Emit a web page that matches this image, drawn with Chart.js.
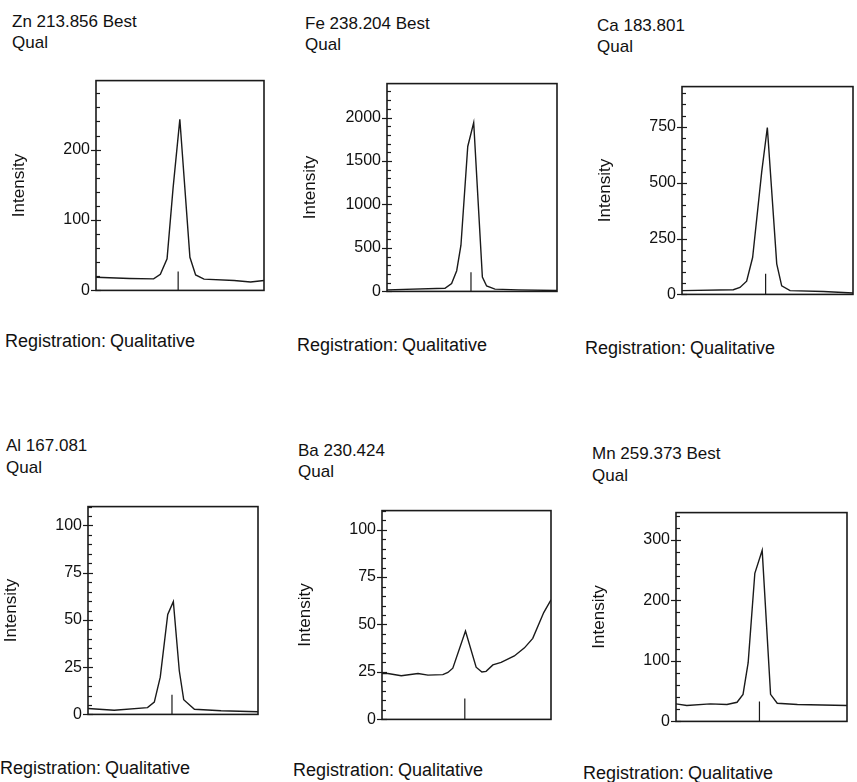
<!DOCTYPE html>
<html>
<head>
<meta charset="utf-8">
<script src="https://cdn.jsdelivr.net/npm/chart.js@4/dist/chart.umd.min.js"></script>
<style>
  body { margin:0; background:#fff; width:857px; height:782px; position:relative; overflow:hidden;
         font-family:"Liberation Sans", Arial, sans-serif; color:#111; }
  .ttl { position:absolute; font-size:17px; line-height:21.5px; white-space:nowrap; }
  .reg { position:absolute; font-size:18px; line-height:22px; white-space:nowrap; word-spacing:-1px; }
  canvas { position:absolute; }
</style>
</head>
<body>
<script>
// ---- line labels ----
const lineNames = ['Zn 213.856 Best', 'Fe 238.204 Best', 'Ca 183.801', 'Al 167.081', 'Ba 230.424', 'Mn 259.373 Best'];

// ---- scan profiles (x = position across window, 0..100) ----
const znX = [0, 20, 34.3, 38.3, 42.3, 45.9, 49.9, 55.9, 59.3, 64.3, 82.2, 92, 100];
const znY = [18.7, 17, 16.4, 23, 45, 146, 243, 47, 22, 16, 14, 12, 14];

const feX = [0, 34.1, 38, 41, 43.5, 47.5, 51, 56.1, 58.6, 63.5, 77.3, 100];
const feY = [18, 36, 91, 238, 531, 1667, 1941, 165, 62, 26, 18, 11];

const caX = [0, 30, 33.9, 37.8, 41.3, 46.6, 49.9, 55.4, 58.3, 63.2, 82.7, 100];
const caY = [17, 21, 31, 59, 165, 547, 747, 137, 38, 17, 13, 6];

const alX = [0, 15.4, 35, 39, 42.5, 46.9, 50.2, 53.7, 56.3, 62.6, 78.3, 100];
const alY = [3.1, 2.2, 3.6, 6.5, 19.7, 52.9, 59.7, 23.1, 7.8, 2.7, 1.9, 1.4];

const baX = [0, 3.5, 11.4, 21.3, 27.2, 36, 39, 41.9, 49.4, 55.7, 59.1, 61.6, 65.6, 70.5, 78.3, 84.3, 89.2, 95.7, 100];
const baY = [24.2, 24.2, 23, 24.2, 23.3, 23.6, 24.7, 27, 46.5, 27.5, 25, 25.3, 28.7, 30, 33.4, 37.7, 42.7, 56.3, 63];

const mnX = [0, 6.3, 20, 29.8, 35.7, 39.2, 42.2, 46.1, 50.4, 55.3, 59.2, 71, 100];
const mnY = [29, 26.3, 29, 27.9, 31.6, 44.7, 97, 244.7, 282.6, 44.7, 30, 27.9, 26.3];

// peak position marker (x, height)
const markerX = [48.9, 49.4, 48.9, 49.4, 49, 48.8];
const markerH = [27, 220, 92, 10.4, 11, 33];

// intensity axes
const yMax   = [298, 2390, 930, 110, 110, 345];
const yTicks = [
  [0, 100, 200],
  [0, 500, 1000, 1500, 2000],
  [0, 250, 500, 750],
  [0, 25, 50, 75, 100],
  [0, 25, 50, 75, 100],
  [0, 100, 200, 300]
];
const yMinor = [20, 100, 50, 5, 5, 20];

const profX = [znX, feX, caX, alX, baX, mnX];
const profY = [znY, feY, caY, alY, baY, mnY];

// page placement: plot box [left, top, right, bottom], title and footer anchors
const layoutBoxes = [
  { box:[96, 75, 264, 294],  title:[12, 10.6],  reg:[5, 330] },
  { box:[387, 78, 557, 295], title:[305, 12.6], reg:[297, 334] },
  { box:[682, 81, 853, 298], title:[597, 14.6], reg:[585, 337] },
  { box:[88, 501, 258, 718], title:[6, 435],    reg:[0, 757] },
  { box:[382, 505, 551, 723],title:[298, 439.6],reg:[293, 759] },
  { box:[676, 507, 847, 725],title:[592, 443],  reg:[583, 762] }
];

const INK = '#1a1a1a';
const FONT = '"Liberation Sans", Arial, sans-serif';
const AXIS_W = 91;

// plot frame plus major/minor intensity ticks
const frameTicks = {
  id: 'frameTicks',
  afterDatasetsDraw(chart, args, opts) {
    const { ctx, chartArea: a } = chart;
    const y = chart.scales.y;
    ctx.save();
    ctx.strokeStyle = INK;
    ctx.lineWidth = 1.6;
    ctx.strokeRect(a.left, a.top, a.width, a.height);
    ctx.lineWidth = 1.2;
    const n = Math.floor(y.max / opts.minor + 1e-9);
    for (let i = 0; i <= n; i++) {
      const v = i * opts.minor;
      const major = opts.major.includes(v);
      const py = Math.round(y.getPixelForValue(v)) + 0.5;
      ctx.beginPath();
      ctx.moveTo(a.left - (major ? 5 : 0), py);
      ctx.lineTo(a.left + (major ? 5 : 4), py);
      ctx.stroke();
    }
    ctx.restore();
  }
};

function addText(cls, pos, html) {
  const d = document.createElement('div');
  d.className = cls;
  d.style.left = pos[0] + 'px';
  d.style.top = pos[1] + 'px';
  d.innerHTML = html;
  document.body.appendChild(d);
}

layoutBoxes.forEach((p, k) => {
  addText('ttl', p.title, lineNames[k] + '<br>Qual');
  addText('reg', p.reg, 'Registration: Qualitative');

  const [l, t, r, b] = p.box;
  const cv = document.createElement('canvas');
  cv.width = (r - l) + AXIS_W + 10;
  cv.height = (b - t) + 22;
  cv.style.left = (l - AXIS_W) + 'px';
  cv.style.top = (t - 10) + 'px';
  document.body.appendChild(cv);

  const lineStyle = { borderColor: INK, pointRadius: 0, tension: 0, fill: false };

  new Chart(cv, {
    type: 'line',
    data: {
      datasets: [
        { ...lineStyle, borderWidth: 1.4, data: profX[k].map((x, i) => ({ x, y: profY[k][i] })) },
        { ...lineStyle, borderWidth: 1.2, data: [{ x: markerX[k], y: 0 }, { x: markerX[k], y: markerH[k] }] }
      ]
    },
    options: {
      responsive: false,
      animation: false,
      events: [],
      layout: { padding: { top: 10, right: 10, bottom: 12, left: 0 } },
      plugins: {
        legend: { display: false },
        tooltip: { enabled: false },
        frameTicks: { major: yTicks[k], minor: yMinor[k] }
      },
      scales: {
        x: { type: 'linear', min: 0, max: 100, display: false },
        y: {
          min: 0,
          max: yMax[k],
          afterBuildTicks(s) { s.ticks = yTicks[k].map(value => ({ value })); },
          afterFit(s) { s.width = AXIS_W; },
          border: { display: false },
          grid: { display: false, drawTicks: false },
          ticks: {
            padding: 6,
            color: '#111',
            font: { size: 16, family: FONT },
            callback: v => String(v)
          },
          title: {
            display: true,
            text: 'Intensity',
            color: '#111',
            font: { size: 17, family: FONT },
            padding: { top: 4, bottom: 4 }
          }
        }
      }
    },
    plugins: [frameTicks]
  });
});
</script>
</body>
</html>
